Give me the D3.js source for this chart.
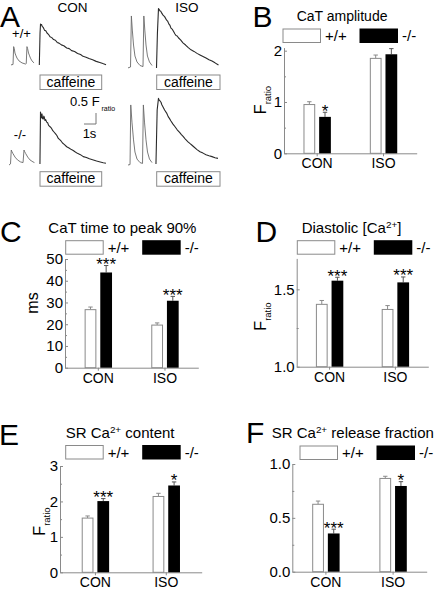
<!DOCTYPE html>
<html><head><meta charset="utf-8">
<script src="https://cdn.jsdelivr.net/npm/d3@7"></script>
<style>
html,body{margin:0;padding:0;background:#fff;}
svg{display:block;font-family:"Liberation Sans",Arial,Helvetica,sans-serif;}
</style></head><body>
<svg id="fig" width="435" height="590"></svg>
<script>
// ================= DATA =================
const categories = ["CON", "ISO"];
const genotypes = ["+/+", "-/-"];

// B: CaT amplitude (F ratio)
const ampWT = [0.95, 1.85];
const ampKO = [0.71, 1.93];
const ampWTerr = [0.055, 0.065];
const ampKOerr = [0.09, 0.11];
const ampSig = ["*", ""];
const ampTicks = [0, 1, 2];
const ampMinor = [0.5, 1.5];

// C: CaT time to peak 90% (ms)
const ttpWT = [26.7, 19.6];
const ttpKO = [43.8, 30.8];
const ttpWTerr = [1.2, 1.0];
const ttpKOerr = [3.2, 2.0];
const ttpSig = ["***", "***"];
const ttpTicks = [0, 10, 20, 30, 40, 50];
const ttpMinor = [5, 15, 25, 35, 45];

// D: Diastolic [Ca2+] (F ratio)
const diaWT = [1.403, 1.37];
const diaKO = [1.556, 1.545];
const diaWTerr = [0.025, 0.025];
const diaKOerr = [0.022, 0.035];
const diaSig = ["***", "***"];
const diaTicks = [1.0, 1.5];
const diaMinor = [1.25];

// E: SR Ca2+ content (F ratio)
const srWT = [1.53, 2.14];
const srKO = [2.01, 2.45];
const srWTerr = [0.06, 0.09];
const srKOerr = [0.07, 0.10];
const srSig = ["***", "*"];
const srTicks = [0, 1, 2, 3];
const srMinor = [0.5, 1.5, 2.5];

// F: SR Ca2+ release fraction
const frWT = [0.626, 0.866];
const frKO = [0.355, 0.796];
const frWTerr = [0.03, 0.02];
const frKOerr = [0.04, 0.04];
const frSig = ["***", "*"];
const frTicks = [0.0, 0.5, 1.0];
const frMinor = [0.25, 0.75];

// A: Ca transients, [time (s), dF (F ratio)]
const paceConWT = [[0,0.05],[0.17,0.07],[0.22,0.88],[0.27,0.8],[0.33,0.59],[0.42,0.46],[0.5,0.36],[0.67,0.23],[0.92,0.14],[1.21,0.09],[1.27,0.11],[1.33,0.88],[1.38,0.8],[1.46,0.59],[1.55,0.46],[1.62,0.36],[1.75,0.23],[1.92,0.14]];
const cafConWT = [[2.36,0.05],[2.42,1.5],[2.46,1.91],[2.5,1.86],[2.55,1.88],[2.6,1.8],[2.7,1.74],[2.8,1.62],[2.9,1.6],[3.0,1.5],[3.12,1.44],[3.25,1.33],[3.4,1.29],[3.55,1.2],[3.7,1.17],[3.85,1.07],[4.0,1.04],[4.2,0.96],[4.4,0.92],[4.64,0.82],[4.85,0.79],[5.05,0.7],[5.3,0.66],[5.55,0.57],[5.8,0.52],[6.0,0.44],[6.25,0.4],[6.5,0.34],[6.8,0.28],[7.1,0.21],[7.4,0.16],[7.65,0.11],[7.92,0.06]];
const paceIsoWT = [[0,0.05],[0.21,0.09],[0.28,2.41],[0.36,1.77],[0.46,1.09],[0.58,0.59],[0.75,0.32],[1.0,0.16],[1.25,0.11],[1.32,2.41],[1.4,1.77],[1.5,1.09],[1.62,0.59],[1.79,0.32],[2.0,0.16]];
const cafIsoWT = [[2.375,0.05],[2.45,1.6],[2.54,2.75],[2.6,2.7],[2.67,2.64],[2.74,2.62],[2.8,2.55],[2.92,2.45],[3.05,2.38],[3.22,2.22],[3.3,2.18],[3.4,2.05],[3.5,1.98],[3.58,1.86],[3.7,1.8],[3.8,1.7],[3.9,1.6],[4.0,1.52],[4.1,1.5],[4.2,1.42],[4.4,1.31],[4.58,1.19],[4.8,1.09],[5.0,0.98],[5.25,0.87],[5.5,0.8],[5.75,0.71],[6.0,0.64],[6.25,0.57],[6.5,0.5],[6.75,0.42],[7.0,0.36],[7.25,0.28],[7.54,0.18]];
const paceConKO = [[0,0],[0.125,0.05],[0.19,0.68],[0.25,0.6],[0.33,0.52],[0.5,0.36],[0.71,0.23],[0.96,0.14],[1.17,0.11],[1.25,0.68],[1.31,0.6],[1.39,0.52],[1.56,0.36],[1.75,0.23],[2.0,0.14],[2.12,0.11]];
const cafConKO = [[2.58,0.05],[2.625,2.41],[2.66,2.2],[2.69,2.14],[2.72,2.3],[2.75,2.32],[2.8,2.1],[2.86,2.09],[2.9,2.22],[2.94,2.18],[3.0,2.02],[3.06,2.06],[3.14,1.95],[3.22,1.92],[3.3,1.8],[3.42,1.74],[3.55,1.66],[3.65,1.56],[3.75,1.5],[3.9,1.4],[4.0,1.33],[4.11,1.21],[4.25,1.14],[4.35,1.08],[4.46,1.0],[4.6,0.94],[4.81,0.83],[5.0,0.77],[5.2,0.7],[5.35,0.66],[5.5,0.6],[5.7,0.53],[5.95,0.47],[6.19,0.38],[6.45,0.34],[6.7,0.28],[7.03,0.23],[7.3,0.18],[7.6,0.14],[7.85,0.1],[8.08,0.08]];
const paceIsoKO = [[0,0],[0.17,0.02],[0.23,2.73],[0.33,1.95],[0.46,1.14],[0.58,0.59],[0.75,0.27],[1.0,0.11],[1.21,0.07],[1.28,2.73],[1.375,1.95],[1.5,1.14],[1.625,0.59],[1.79,0.27],[2.0,0.11]];
const cafIsoKO = [[2.33,0.05],[2.43,2.5],[2.54,3.03],[2.6,2.95],[2.67,2.91],[2.75,2.85],[2.82,2.74],[2.92,2.64],[3.05,2.5],[3.22,2.36],[3.35,2.2],[3.45,2.12],[3.58,2.0],[3.75,1.86],[3.92,1.74],[4.1,1.6],[4.3,1.48],[4.45,1.38],[4.61,1.29],[4.8,1.16],[5.0,1.05],[5.15,0.98],[5.31,0.91],[5.5,0.82],[5.75,0.7],[6.0,0.6],[6.25,0.54],[6.5,0.47],[6.75,0.42],[7.0,0.38],[7.25,0.33],[7.5,0.3]];
const scaleBarF = 0.5, scaleBarT = 1;

// ================= DRAW =================
const svg = d3.select("#fig");
const AXIS = "#8a8a8a";

function txt(x, y, s, size, anchor) {
  return svg.append("text").attr("x", x).attr("y", y).attr("font-size", size)
    .attr("text-anchor", anchor || "start").attr("fill", "#000").text(s);
}
function richText(x, y, parts, size, anchor) {
  const t = svg.append("text").attr("x", x).attr("y", y).attr("font-size", size)
    .attr("text-anchor", anchor || "start").attr("fill", "#000");
  parts.forEach(p => {
    const ts = t.append("tspan").text(p.t);
    if (p.sup) ts.attr("font-size", size * 0.66).attr("baseline-shift", "super");
  });
  return t;
}

// Panel letters
[["A",0,26.5],["B",252.5,26.5],["C",0,242],["D",255.5,242],["E",-1,445],["F",246,443]]
  .forEach(d => txt(d[1], d[2], d[0], 30));

// ---------- Panel A ----------
const pxPerS = 12, pxPerF = 22;
function traceScales(ox, oy) {
  return {
    x: d3.scaleLinear().domain([0, 1]).range([ox, ox + pxPerS]),
    y: d3.scaleLinear().domain([0, 1]).range([oy, oy - pxPerF])
  };
}
function drawTrace(data, sc, color, w) {
  const line = d3.line().x(d => sc.x(d[0])).y(d => sc.y(d[1]));
  svg.append("path").attr("d", line(data)).attr("fill", "none")
    .attr("stroke", color).attr("stroke-width", w).attr("stroke-linejoin", "round");
}
const subA = [
  {pace: paceConWT, caf: cafConWT, o: [11, 66]},
  {pace: paceIsoWT, caf: cafIsoWT, o: [128, 69]},
  {pace: paceConKO, caf: cafConKO, o: [9, 165]},
  {pace: paceIsoKO, caf: cafIsoKO, o: [128, 165]}
];
subA.forEach(s => {
  const sc = traceScales(s.o[0], s.o[1]);
  drawTrace(s.pace, sc, "#6a6a6a", 0.9);
  drawTrace(s.caf, sc, "#2a2a2a", 1.1);
});
txt(72.5, 12, "CON", 13.5, "middle");
txt(187, 12, "ISO", 13.5, "middle");
txt(21.5, 37.5, "+/+", 13, "middle");
txt(20, 139, "-/-", 13, "middle");
// caffeine boxes
[[40, 75, 61.7], [156.7, 75, 63.3], [40, 171.7, 61.7], [156.7, 171.7, 63.3]].forEach(b => {
  svg.append("rect").attr("x", b[0]).attr("y", b[1]).attr("width", b[2]).attr("height", 14.5)
    .attr("fill", "#fff").attr("stroke", "#8a8a8a").attr("stroke-width", 1);
  txt(b[0] + b[2] / 2, b[1] + 11.5, "caffeine", 14, "middle");
});
// scale bar
{
  const sc = traceScales(96 - pxPerS * scaleBarT, 124);
  svg.append("path").attr("fill", "none").attr("stroke", "#777").attr("stroke-width", 1)
    .attr("d", `M${sc.x(0)},${sc.y(0)}H${sc.x(scaleBarT)}V${sc.y(scaleBarF)}`);
  txt(70, 106, "0.5 F", 13);
  txt(101.5, 111, "ratio", 7);
  txt(89.5, 138, "1s", 13, "middle");
}

// ---------- Bar panels ----------
const panels = [
  {wt: ampWT, ko: ampKO, wtE: ampWTerr, koE: ampKOerr, sig: ampSig, ticks: ampTicks, minor: ampMinor,
   fmt: d3.format("d"), domain: [0, 2.06], range: [153.3, 47.6], x0: 284, x1: 416.7,
   title: {x: 296.7, y: 21, size: 14, parts: [{t: "CaT amplitude"}]},
   legend: [283, 29], ylab: {x: 266, y: 100, main: "F", sub: "ratio"}},
  {wt: ttpWT, ko: ttpKO, wtE: ttpWTerr, koE: ttpKOerr, sig: ttpSig, ticks: ttpTicks, minor: ttpMinor,
   fmt: d3.format("d"), domain: [0, 50], range: [367.7, 259], x0: 65, x1: 198.3,
   title: {x: 48.3, y: 233, size: 15, parts: [{t: "CaT time to peak 90%"}]},
   legend: [65.7, 240.7], ylab: {x: 37.5, y: 303, main: "ms"}},
  {wt: diaWT, ko: diaKO, wtE: diaWTerr, koE: diaKOerr, sig: diaSig, ticks: diaTicks, minor: diaMinor,
   fmt: d3.format(".1f"), domain: [1.0, 1.7], range: [366.7, 258.4], x0: 296.7, x1: 428.3,
   title: {x: 301.7, y: 233, size: 15, parts: [{t: "Diastolic [Ca"}, {t: "2+", sup: true}, {t: "]"}]},
   legend: [297.3, 240.7], ylab: {x: 265.5, y: 316.5, main: "F", sub: "ratio"}},
  {wt: srWT, ko: srKO, wtE: srWTerr, koE: srKOerr, sig: srSig, ticks: srTicks, minor: srMinor,
   fmt: d3.format("d"), domain: [0, 3], range: [572.3, 466], x0: 60, x1: 201.7,
   title: {x: 65.7, y: 438, size: 15, parts: [{t: "SR Ca"}, {t: "2+", sup: true}, {t: " content"}]},
   legend: [65.7, 445.5], ylab: {x: 45, y: 521.5, main: "F", sub: "ratio"}},
  {wt: frWT, ko: frKO, wtE: frWTerr, koE: frKOerr, sig: frSig, ticks: frTicks, minor: frMinor,
   fmt: d3.format(".1f"), domain: [0, 1], range: [571.7, 464], x0: 292.3, x1: 426.7,
   title: {x: 271.7, y: 438, size: 15, parts: [{t: "SR Ca"}, {t: "2+", sup: true}, {t: " release fraction"}]},
   legend: [300, 446], ylab: null}
];

function styleAxis(g, labelSize) {
  g.selectAll("path.domain").attr("stroke", AXIS).attr("stroke-width", 1);
  g.selectAll(".tick line").attr("stroke", AXIS).attr("stroke-width", 1);
  g.selectAll(".tick text").attr("fill", "#000").attr("font-size", labelSize)
    .attr("font-family", '"Liberation Sans",Arial,sans-serif');
}

panels.forEach(p => {
  const x = d3.scaleBand().domain(categories).range([p.x0, p.x1]).paddingInner(0.5).paddingOuter(0.25);
  const sub = d3.scaleBand().domain(genotypes).range([-13.7, 13.7]).paddingInner(0.25);
  const y = d3.scaleLinear().domain(p.domain).range(p.range);
  const base = y(p.domain[0]);
  const center = c => x(c) + x.bandwidth() / 2;

  // minor ticks
  const gm = svg.append("g").attr("transform", `translate(${p.x0},0)`)
    .call(d3.axisLeft(y).tickValues(p.minor).tickFormat("").tickSizeInner(-2).tickSizeOuter(0));
  gm.select("path.domain").remove();
  styleAxis(gm, 15);
  // major y axis
  const gy = svg.append("g").attr("transform", `translate(${p.x0},0)`)
    .call(d3.axisLeft(y).tickValues(p.ticks).tickFormat(p.fmt).tickSizeInner(-3).tickSizeOuter(0).tickPadding(2));
  styleAxis(gy, 15);
  // x axis
  const gx = svg.append("g").attr("transform", `translate(0,${base})`)
    .call(d3.axisBottom(x).tickSizeInner(3).tickSizeOuter(0).tickPadding(2));
  styleAxis(gx, 14);

  // bars
  const rows = [];
  categories.forEach((c, i) => {
    rows.push({c, g: "+/+", v: p.wt[i], e: p.wtE[i], sig: ""});
    rows.push({c, g: "-/-", v: p.ko[i], e: p.koE[i], sig: p.sig[i]});
  });
  const bw = sub.bandwidth();
  rows.forEach(r => {
    const bx = center(r.c) + sub(r.g);
    const top = y(r.v), et = y(r.v + r.e);
    const mid = bx + bw / 2;
    const ecol = r.g === "+/+" ? "#8a8a8a" : "#555";
    svg.append("line").attr("x1", mid).attr("x2", mid).attr("y1", top).attr("y2", et)
      .attr("stroke", ecol).attr("stroke-width", 1);
    svg.append("line").attr("x1", mid - 2.2).attr("x2", mid + 2.2).attr("y1", et).attr("y2", et)
      .attr("stroke", ecol).attr("stroke-width", 1);
    if (r.g === "+/+") {
      svg.append("rect").attr("x", bx + 0.5).attr("y", top).attr("width", bw - 1).attr("height", base - top)
        .attr("fill", "#fff").attr("stroke", "#8a8a8a").attr("stroke-width", 1);
    } else {
      svg.append("rect").attr("x", bx).attr("y", top).attr("width", bw).attr("height", base - top)
        .attr("fill", "#000");
    }
    if (r.sig) txt(mid, et + 4.5, r.sig, 17, "middle");
  });

  // title
  richText(p.title.x, p.title.y, p.title.parts, p.title.size);
  // legend
  const [lx, ly] = p.legend;
  svg.append("rect").attr("x", lx).attr("y", ly).attr("width", 37.5).attr("height", 13.5)
    .attr("fill", "#fff").attr("stroke", "#8a8a8a").attr("stroke-width", 1);
  txt(lx + 42, ly + 12, genotypes[0], 15);
  svg.append("rect").attr("x", lx + 76.5).attr("y", ly - 0.5).attr("width", 38.5).attr("height", 14.5)
    .attr("fill", "#000");
  txt(lx + 119, ly + 12, genotypes[1], 15);
  // y label
  if (p.ylab) {
    const t = svg.append("text").attr("transform", `translate(${p.ylab.x},${p.ylab.y}) rotate(-90)`)
      .attr("text-anchor", "middle").attr("font-size", 16).attr("fill", "#000");
    t.append("tspan").text(p.ylab.main);
    if (p.ylab.sub) t.append("tspan").attr("font-size", 9.5).attr("dy", 5).text(p.ylab.sub);
  }
});
</script>
</body></html>
